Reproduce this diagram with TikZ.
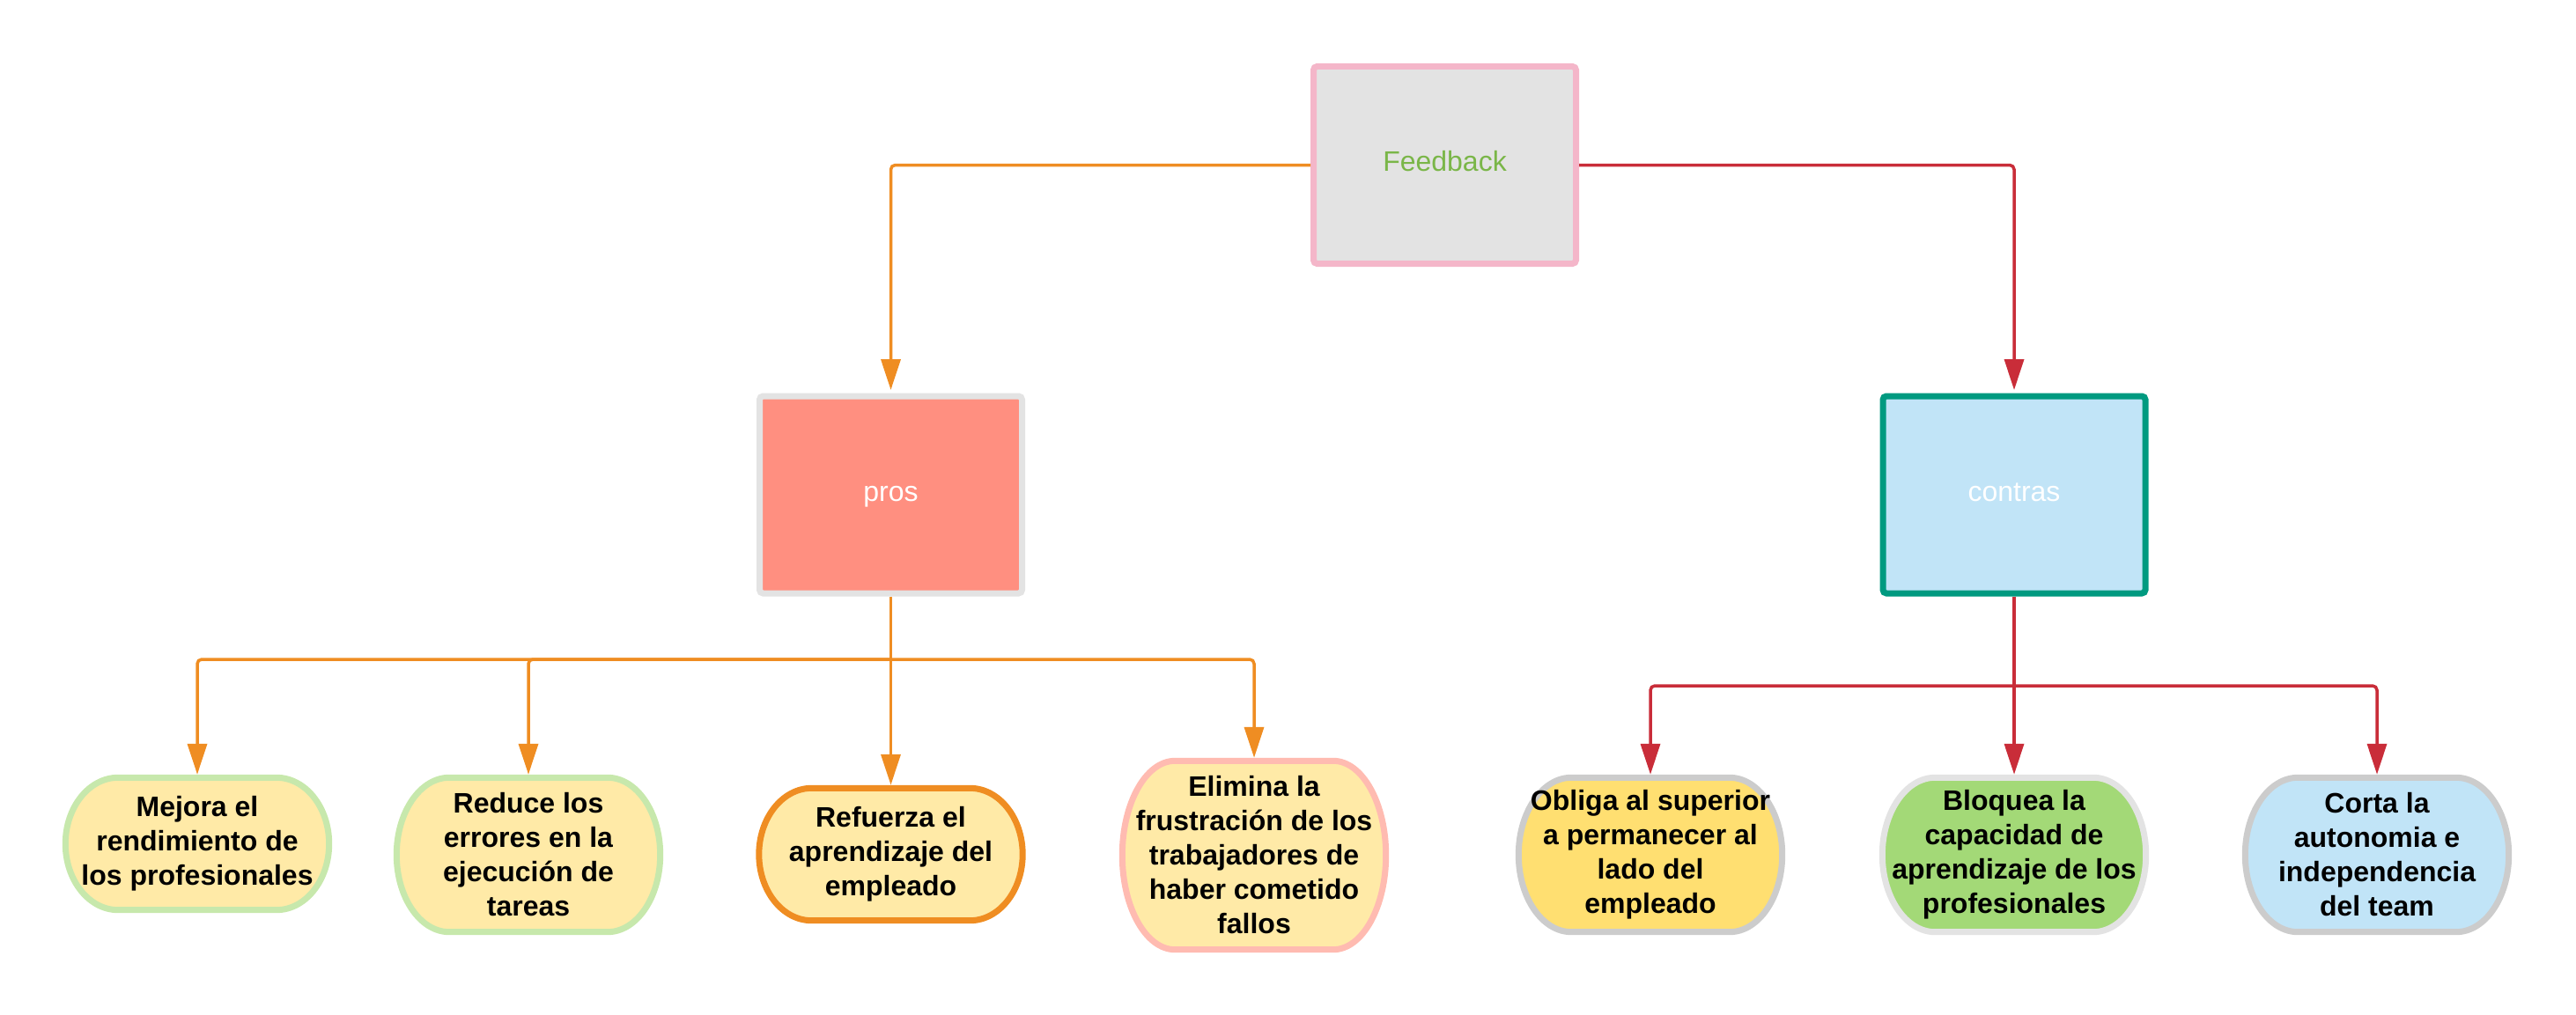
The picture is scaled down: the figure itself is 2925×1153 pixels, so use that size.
\documentclass[tikz,border=0pt]{standalone}
\usepackage{fontspec}
\setmainfont{Liberation Sans}
\usetikzlibrary{arrows.meta,calc,backgrounds}
\definecolor{orangeL}{HTML}{EF8D22}
\definecolor{redL}{HTML}{C92D39}
\definecolor{tealB}{HTML}{009A80}
\definecolor{pinkB}{HTML}{F4B6C9}
\definecolor{greenT}{HTML}{7AB648}
\definecolor{grayF}{HTML}{E3E3E3}
\definecolor{salmonF}{HTML}{FF8F80}
\definecolor{blueF}{HTML}{C1E4F7}
\definecolor{yellowL}{HTML}{FFEAA7}
\definecolor{greenB}{HTML}{C7E8AC}
\definecolor{pinkL}{HTML}{FFBBB1}
\definecolor{yellowF}{HTML}{FFDF71}
\definecolor{grayB}{HTML}{CCCCCC}
\definecolor{greenF}{HTML}{A3D977}
\newcommand\drawpill[3]{%
  \path[fill=#2,draw=#3,line width=7pt] let \p1=(#1.north west), \p2=(#1.south east),
    \n1={0.2*(\x2-\x1)}, \n2={0.5*(\y1+\y2)}, \n3={0.5*(\y1-\y2)} in
    ({\x1+\n1*1pt},\y1) -- ({\x2-\n1*1pt},\y1)
    .. controls ({\x2-0.448*\n1*1pt},\y1) and (\x2,{(\n2+0.552*\n3)*1pt}) .. (\x2,{\n2*1pt})
    .. controls (\x2,{(\n2-0.552*\n3)*1pt}) and ({\x2-0.448*\n1*1pt},\y2) .. ({\x2-\n1*1pt},\y2)
    -- ({\x1+\n1*1pt},\y2)
    .. controls ({\x1+0.448*\n1*1pt},\y2) and (\x1,{(\n2-0.552*\n3)*1pt}) .. (\x1,{\n2*1pt})
    .. controls (\x1,{(\n2+0.552*\n3)*1pt}) and ({\x1+0.448*\n1*1pt},\y1) .. ({\x1+\n1*1pt},\y1) -- cycle;}
\begin{document}
\begin{tikzpicture}[x=1pt,y=-1pt,
  bigbox/.style={rectangle,minimum width=298pt,minimum height=224pt,inner sep=0pt,
    line width=7pt,rounded corners=4pt,text height=23pt,text depth=9pt,
    font=\fontsize{32}{39}\selectfont},
  pillnode/.style={rectangle,minimum width=299pt,inner sep=0pt,align=center,
    font=\fontsize{32}{39}\selectfont\bfseries},
  oline/.style={draw=orangeL,line width=3.5pt,rounded corners=5pt,
    -{Triangle[length=35pt,width=22pt]},shorten >=3.5pt},
  rline/.style={draw=redL,line width=3.5pt,rounded corners=5pt,
    -{Triangle[length=35pt,width=22pt]},shorten >=3.5pt},
  plainO/.style={draw=orangeL,line width=3.5pt},
  plainR/.style={draw=redL,line width=3.5pt}]
\useasboundingbox (0,0) rectangle (2925,1153);
% main boxes
\node[bigbox,fill=grayF,draw=pinkB,text=greenT] (fb) at (1640.5,187.5) {Feedback};
\node[bigbox,fill=salmonF,draw=grayF,text=white] (pros) at (1011.5,562) {pros};
\node[bigbox,fill=blueF,draw=tealB,text=white] (contras) at (2287,562) {contras};
% pills
\node[pillnode,minimum height=150pt] (mejora) at (224,958.5) {Mejora el\\rendimiento de\\los profesionales};
\node[pillnode,minimum height=175pt] (reduce) at (600,971) {Reduce los\\errores en la\\ejecución de\\tareas};
\node[pillnode,minimum height=150pt] (refuerza) at (1011.5,970.5) {Refuerza el\\aprendizaje del\\empleado};
\node[pillnode,minimum height=214pt] (elimina) at (1424,971.5) {Elimina la\\frustración de los\\trabajadores de\\haber cometido\\fallos};
\node[pillnode,minimum height=175pt] (obliga) at (1874,971) {Obliga al superior\\a permanecer al\\lado del\\empleado};
\node[pillnode,minimum height=175pt] (bloquea) at (2287,971) {Bloquea la\\capacidad de\\aprendizaje de los\\profesionales};
\node[pillnode,minimum height=175pt] (corta) at (2699,971) {Corta la\\autonomia e\\independencia\\del team};
\begin{scope}[on background layer]
\drawpill{mejora}{yellowL}{greenB}
\drawpill{reduce}{yellowL}{greenB}
\drawpill{refuerza}{yellowL}{orangeL}
\drawpill{elimina}{yellowL}{pinkL}
\drawpill{obliga}{yellowF}{grayB}
\drawpill{bloquea}{greenF}{grayF}
\drawpill{corta}{blueF}{grayB}
\end{scope}
% top connectors
\draw[oline] (fb.west) -| (pros.north);
\draw[rline] (fb.east) -| (contras.north);
% pros branches
\coordinate (pj) at (1011.5,749);
\draw[plainO] (pros.south) -- (pj);
\draw[oline] (pj) -| (mejora.north);
\draw[oline] (pj) -| (reduce.north);
\draw[oline] (pj) -- (refuerza.north);
\draw[oline] (pj) -| (elimina.north);
% contras branches
\coordinate (cj) at (2287,779);
\draw[plainR] (contras.south) -- (cj);
\draw[rline] (cj) -| (obliga.north);
\draw[rline] (cj) -- (bloquea.north);
\draw[rline] (cj) -| (corta.north);
\end{tikzpicture}
\end{document}
